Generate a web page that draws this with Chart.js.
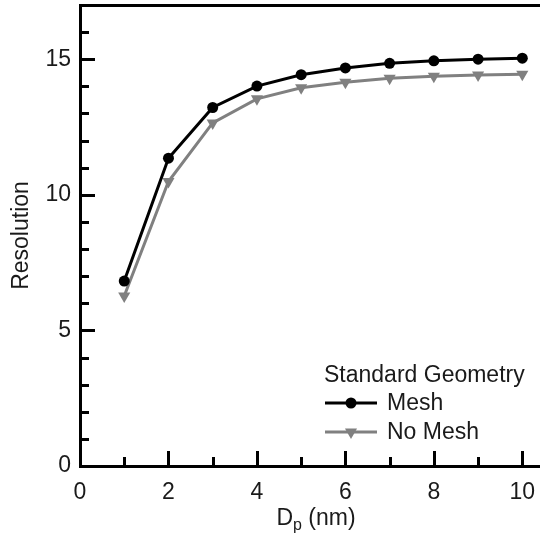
<!DOCTYPE html>
<html>
<head>
<meta charset="utf-8">
<script src="https://cdn.jsdelivr.net/npm/chart.js@4.4.0/dist/chart.umd.min.js"></script>
<style>
  html, body { margin: 0; padding: 0; background: #fff; overflow: hidden; }
  #wrap { width: 540px; height: 541px; }
</style>
</head>
<body>
<div id="wrap"><canvas id="resChart" width="540" height="541"></canvas></div>
<script>
// particle diameter Dp (nm)
var diameters = [1, 2, 3, 4, 5, 6, 7, 8, 9, 10];
var meshValues = [6.82, 11.35, 13.22, 14.01, 14.43, 14.68, 14.85, 14.94, 15.00, 15.04];
var noMeshValues = [6.27, 10.49, 12.65, 13.54, 13.95, 14.15, 14.30, 14.37, 14.42, 14.45];
var xTickLabels = [0, 2, 4, 6, 8, 10];
var yTickLabels = [0, 5, 10, 15];
var legendTitle = 'Standard Geometry';
var seriesNames = ['Mesh', 'No Mesh'];

var FONT = '"Liberation Sans", Arial, sans-serif';
var FS = 23;
var TXT = '#1a1a1a';

function toPoints(vals) {
    return vals.map(function(v, i) { return { x: diameters[i], y: v }; });
}

// tick marks drawn inside the frame (major every 2 / 5, minor every 1)
var innerTicks = {
    id: 'innerTicks',
    beforeDatasetsDraw: function(chart) {
        var ctx = chart.ctx, a = chart.chartArea;
        var xs = chart.scales.x, ys = chart.scales.y;
        ctx.save();
        ctx.strokeStyle = '#000';
        ctx.lineWidth = 3;
        ctx.beginPath();
        for (var i = 1; i <= Math.floor(xs.max); i++) {
            var px = Math.round(xs.getPixelForValue(i)) + 0.5;
            var len = (i % 2 === 0) ? 15 : 9;
            ctx.moveTo(px, a.bottom);
            ctx.lineTo(px, a.bottom - len);
        }
        for (var j = 1; j < ys.max; j++) {
            var py = Math.round(ys.getPixelForValue(j)) + 0.5;
            var l = (j % 5 === 0) ? 15 : 9;
            ctx.moveTo(a.left, py);
            ctx.lineTo(a.left + l, py);
        }
        ctx.stroke();
        ctx.restore();
    }
};

// x title with subscript, and the line+marker legend in the corner
var extras = {
    id: 'extras',
    afterDraw: function(chart) {
        var ctx = chart.ctx, a = chart.chartArea;
        ctx.save();
        ctx.fillStyle = TXT;
        ctx.textBaseline = 'alphabetic';

        // Dp (nm)
        var big = FS + 'px ' + FONT, small = '16px ' + FONT;
        ctx.font = big;
        var wD = ctx.measureText('D').width;
        var wRest = ctx.measureText(' (nm)').width;
        ctx.font = small;
        var wp = ctx.measureText('p').width;
        var cx = (a.left + a.right) / 2 + 6;
        var x = cx - (wD + wp + wRest) / 2;
        var base = a.bottom + 59;
        ctx.font = big;
        ctx.fillText('D', x, base);
        ctx.font = small;
        ctx.fillText('p', x + wD, base + 5);
        ctx.font = big;
        ctx.fillText(' (nm)', x + wD + wp, base);

        // legend
        var lx = a.left + 244;
        ctx.textBaseline = 'middle';
        ctx.font = FS + 'px ' + FONT;
        ctx.fillText(legendTitle, lx, a.bottom - 90);
        chart.data.datasets.forEach(function(ds, k) {
            var ry = a.bottom - 63 + k * 29;
            ctx.strokeStyle = ds.borderColor;
            ctx.lineWidth = ds.borderWidth;
            ctx.beginPath();
            ctx.moveTo(lx + 1, ry);
            ctx.lineTo(lx + 53, ry);
            ctx.stroke();
            ctx.fillStyle = ds.pointBackgroundColor;
            ctx.strokeStyle = ds.pointBorderColor;
            Chart.helpers.drawPoint(ctx, {
                pointStyle: ds.pointStyle,
                rotation: ds.pointRotation || 0,
                radius: ds.pointRadius,
                borderWidth: 0
            }, lx + 27, ry);
            ctx.fillStyle = TXT;
            ctx.fillText(ds.label, lx + 63, ry + 1);
        });
        ctx.restore();
    }
};

var ctx = document.getElementById('resChart').getContext('2d');
var chart = new Chart(ctx, {
    type: 'line',
    data: {
        datasets: [{
            label: seriesNames[0],
            data: toPoints(meshValues),
            borderColor: '#000000',
            backgroundColor: '#000000',
            borderWidth: 3,
            pointStyle: 'circle',
            pointRadius: 5.5,
            pointBackgroundColor: '#000000',
            pointBorderColor: '#000000',
            pointBorderWidth: 0,
            tension: 0
        }, {
            label: seriesNames[1],
            data: toPoints(noMeshValues),
            borderColor: '#808080',
            backgroundColor: '#808080',
            borderWidth: 3,
            pointStyle: 'triangle',
            pointRotation: 180,
            pointRadius: 7,
            pointBackgroundColor: '#808080',
            pointBorderColor: '#808080',
            pointBorderWidth: 0,
            tension: 0
        }]
    },
    options: {
        responsive: false,
        animation: false,
        devicePixelRatio: 1,
        layout: { padding: 0, autoPadding: false },
        plugins: {
            legend: { display: false },
            tooltip: { enabled: false }
        },
        scales: {
            x: {
                type: 'linear',
                position: 'bottom',
                min: 0,
                max: 10.4,
                afterFit: function(s) { s.height = 75; s.paddingLeft = 0; s.paddingRight = 0; },
                grid: { display: false, drawTicks: false },
                border: { display: true, color: '#000', width: 3 },
                ticks: {
                    stepSize: 2,
                    includeBounds: false,
                    padding: 13,
                    color: TXT,
                    font: { family: FONT, size: FS },
                    callback: function(v) { return xTickLabels.indexOf(v) >= 0 ? String(v) : ''; }
                }
            },
            x2: {
                type: 'linear',
                position: 'top',
                afterFit: function(s) { s.height = 5; s.paddingLeft = 0; s.paddingRight = 0; },
                grid: { display: false, drawTicks: false },
                border: { display: true, color: '#000', width: 3 },
                ticks: { display: false }
            },
            y: {
                type: 'linear',
                min: 0,
                max: 17,
                afterFit: function(s) { s.width = 80; s.paddingTop = 0; s.paddingBottom = 0; },
                grid: { display: false, drawTicks: false },
                border: { display: true, color: '#000', width: 3 },
                title: {
                    display: true,
                    text: 'Resolution',
                    color: TXT,
                    font: { family: FONT, size: FS },
                    padding: { top: 8, bottom: 0 }
                },
                ticks: {
                    stepSize: 5,
                    includeBounds: false,
                    padding: 9,
                    color: TXT,
                    font: { family: FONT, size: FS },
                    callback: function(v) { return yTickLabels.indexOf(v) >= 0 ? String(v) : ''; }
                }
            }
        }
    },
    plugins: [innerTicks, extras]
});
</script>
</body>
</html>
